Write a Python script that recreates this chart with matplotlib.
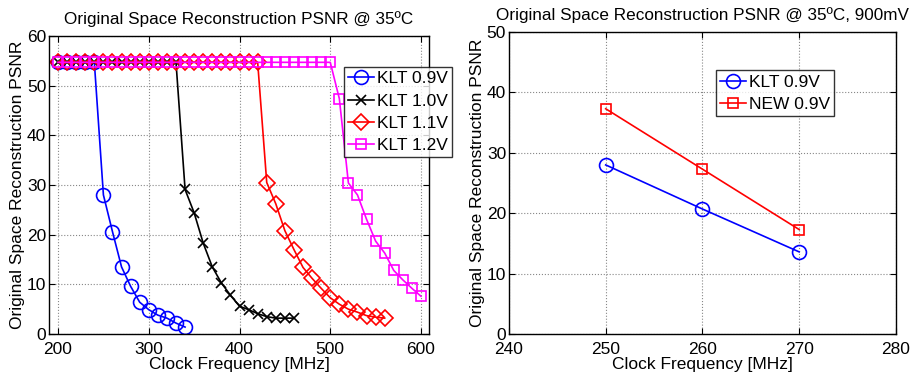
import numpy as np
import matplotlib
matplotlib.use("Agg")
import matplotlib.pyplot as plt

plt.rcParams['font.family'] = ['Liberation Sans', 'DejaVu Sans']

# --- dades panell esquerre (PSNR vs freq., 35ºC) ---
PLA = 54.7
f_09 = list(range(200, 250, 10)) + list(range(250, 350, 10))
p_09 = [PLA] * 5 + [28.0, 20.6, 13.5, 9.6, 6.4, 4.9, 3.8, 3.2, 2.2, 1.4]

f_10 = list(range(200, 340, 10)) + list(range(340, 470, 10))
p_10 = [PLA] * 14 + [29.1, 24.4, 18.3, 13.5, 10.3, 7.8, 5.6, 4.9, 4.1, 3.5, 3.2, 3.2, 3.2]

f_11 = list(range(200, 430, 10)) + list(range(430, 570, 10))
p_11 = [PLA] * 23 + [30.5, 26.2, 20.8, 17.0, 13.4, 11.2, 9.2, 7.3, 6.0, 5.0, 4.4, 3.7, 3.4, 3.2]

f_12 = list(range(200, 510, 10)) + list(range(510, 610, 10))
p_12 = [PLA] * 31 + [47.4, 30.4, 28.0, 23.1, 18.7, 16.3, 12.8, 10.9, 9.2, 7.6]

# --- dades panell dret (35ºC, 900mV) ---
f_dret = [250, 260, 270]
p_klt = [28.0, 20.7, 13.6]
p_new = [37.3, 27.3, 17.3]

fig = plt.figure(figsize=(9.17, 3.77), dpi=100)
ax1 = fig.add_axes([0.0534, 0.114, 0.4146, 0.7905])
ax2 = fig.add_axes([0.555, 0.114, 0.422, 0.801])

lw = 1.2
ax1.plot(f_09, p_09, color='blue', marker='o', label='KLT 0.9V',
         markerfacecolor='none', markersize=10, linewidth=lw, markeredgewidth=lw)
ax1.plot(f_10, p_10, color='black', marker='x', label='KLT 1.0V',
         markersize=7, linewidth=lw, markeredgewidth=lw)
ax1.plot(f_11, p_11, color='red', marker='D', label='KLT 1.1V',
         markerfacecolor='none', markersize=8.5, linewidth=lw, markeredgewidth=lw)
ax1.plot(f_12, p_12, color='magenta', marker='s', label='KLT 1.2V',
         markerfacecolor='none', markersize=7.5, linewidth=lw, markeredgewidth=lw)

ax1.set_xlim(190, 609)
ax1.set_ylim(0, 60)
ax1.set_xticks([200, 300, 400, 500, 600])
ax1.set_yticks(range(0, 61, 10))
ax1.set_title('Original Space Reconstruction PSNR @ 35ºC', fontsize=12.3, pad=9)
ax1.set_xlabel('Clock Frequency [MHz]', fontsize=12.5, labelpad=0)
ax1.set_ylabel('Original Space Reconstruction PSNR', fontsize=12.5, labelpad=1)
leg1 = ax1.legend(loc='upper left', bbox_to_anchor=(0.776, 0.896), borderaxespad=0,
                  fontsize=12.5, frameon=True, fancybox=False, handlelength=1.5,
                  handletextpad=0.15, labelspacing=0.4, borderpad=0.25)
leg1.get_frame().set_edgecolor('black')
leg1.get_frame().set_linewidth(1.0)
leg1.set_zorder(5)

ax2.plot(f_dret, p_klt, color='blue', marker='o', label='KLT 0.9V',
         markerfacecolor='none', markersize=10, linewidth=lw, markeredgewidth=lw)
ax2.plot(f_dret, p_new, color='red', marker='s', label='NEW 0.9V',
         markerfacecolor='none', markersize=7.5, linewidth=lw, markeredgewidth=lw)
ax2.set_xlim(240, 280)
ax2.set_ylim(0, 50)
ax2.set_xticks(range(240, 281, 10))
ax2.set_yticks(range(0, 51, 10))
ax2.set_title('Original Space Reconstruction PSNR @ 35ºC, 900mV', fontsize=12.3, pad=9)
ax2.set_xlabel('Clock Frequency [MHz]', fontsize=12.5, labelpad=0)
ax2.set_ylabel('Original Space Reconstruction PSNR', fontsize=12.5, labelpad=1)
leg2 = ax2.legend(loc='upper left', bbox_to_anchor=(0.534, 0.874), borderaxespad=0,
                  fontsize=12.5, frameon=True, fancybox=False, handlelength=1.5,
                  handletextpad=0.15, labelspacing=0.4, borderpad=0.25)
leg2.get_frame().set_edgecolor('black')
leg2.get_frame().set_linewidth(1.0)

for ax in (ax1, ax2):
    ax.grid(True, linestyle=':', color='#888888', linewidth=0.8)
    ax.tick_params(direction='in', top=True, right=True, labelsize=12.5, length=4)
    ax.tick_params(axis='x', pad=5.5)
    ax.tick_params(axis='y', pad=2)
    for s in ax.spines.values():
        s.set_linewidth(1.0)

fig.savefig('out.png', dpi=100)
